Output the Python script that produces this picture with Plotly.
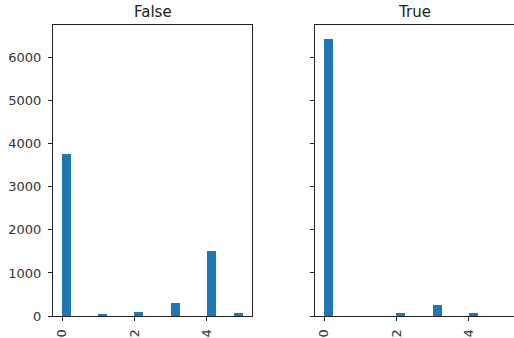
import numpy as np
import plotly.graph_objects as go

# Data (counts per integer value, grouped by flag)
groups = ["False", "True"]
values = [0, 1, 2, 3, 4, 5]
counts_false = [3760, 45, 100, 295, 1515, 75]
counts_true = [6440, 0, 70, 265, 70, 0]
y_ticks = [0, 1000, 2000, 3000, 4000, 5000, 6000]
x_ticks = [0, 2, 4]
n_bins = 20

W, H = 514, 338
color = "#1f77b4"
font = "DejaVu Sans"

fig = go.Figure()

# Axes pixel boxes
left_boxes = [(53, 252), (315, 514)]
top_px, bot_px = 25, 316

for i, (name, counts) in enumerate([("False", counts_false), ("True", counts_true)]):
    raw = np.repeat(values, counts)
    hist, edges = np.histogram(raw, bins=n_bins, range=(min(values), max(values)))
    centers = (edges[:-1] + edges[1:]) / 2
    width = edges[1] - edges[0]
    xa = "x" if i == 0 else "x2"
    ya = "y" if i == 0 else "y2"
    fig.add_trace(go.Bar(x=centers, y=hist, width=width, marker=dict(color=color, line=dict(width=0)),
                         xaxis=xa, yaxis=ya, showlegend=False, hoverinfo="skip"))

ymax = max(max(counts_false), max(counts_true)) * 1.05
xmin, xmax = min(values), max(values)
xpad = (xmax - xmin) * 0.05

common_x = dict(range=[xmin - xpad, xmax + xpad], tickvals=x_ticks, ticktext=[str(t) for t in x_ticks],
                tickangle=-90, ticks="outside", ticklen=4, tickwidth=1, tickcolor="#222",
                showline=True, linecolor="#222", linewidth=1, mirror=True, showgrid=False,
                zeroline=False, automargin=False, ticklabelstandoff=3,
                tickfont=dict(family=font, size=13, color="#333"))
common_y = dict(range=[0, ymax], tickvals=y_ticks, ticks="outside", ticklen=4, tickwidth=1,
                tickcolor="#222", showline=True, linecolor="#222", linewidth=1, mirror=True,
                showgrid=False, zeroline=False, automargin=False, ticklabelstandoff=4,
                tickfont=dict(family=font, size=13, color="#333"))

ydom = [(H - bot_px) / H, (H - top_px) / H]
fig.update_layout(
    width=W, height=H, margin=dict(l=0, r=0, t=0, b=0, autoexpand=False),
    paper_bgcolor="white", plot_bgcolor="white", bargap=0,
    xaxis=dict(domain=[left_boxes[0][0] / W, left_boxes[0][1] / W], anchor="y", **common_x),
    yaxis=dict(domain=ydom, anchor="x", ticktext=[str(t) for t in y_ticks], **common_y),
    xaxis2=dict(domain=[left_boxes[1][0] / W, left_boxes[1][1] / W], anchor="y2", **common_x),
    yaxis2=dict(domain=ydom, anchor="x2", showticklabels=False, **common_y),
)

for i, name in enumerate(groups):
    cx = left_boxes[i][0] + 99.5
    fig.add_annotation(text=name, x=cx / W, y=(H - 23) / H, xref="paper", yref="paper",
                       xanchor="center", yanchor="bottom", showarrow=False,
                       font=dict(family=font, size=15, color="#222"))

fig.write_html("out.html", config={"displayModeBar": False},
               post_script="document.body.style.margin='0';document.body.style.overflow='hidden';")
